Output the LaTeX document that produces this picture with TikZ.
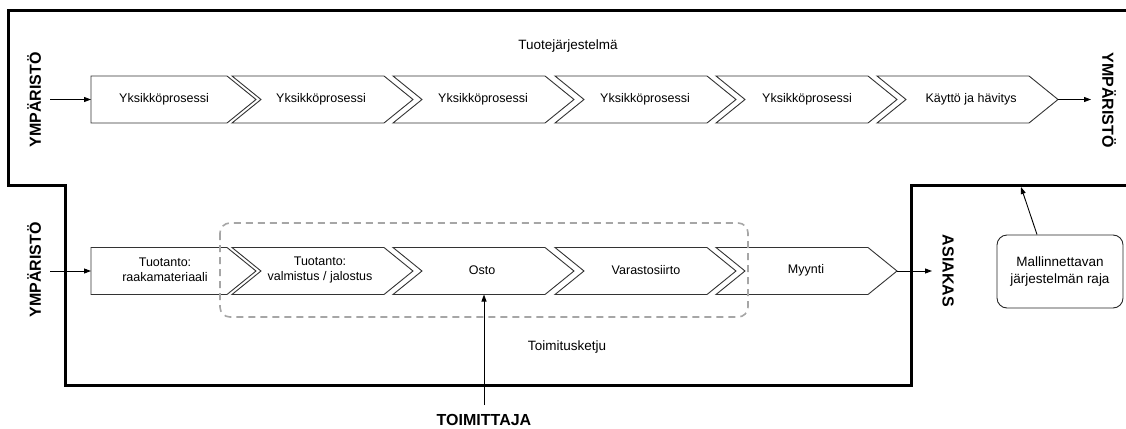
\documentclass[tikz,border=0pt]{standalone}
\usepackage{fontspec}
\setmainfont{Liberation Sans}
\usetikzlibrary{arrows.meta}
\newcommand{\chevpath}[4]{% #1 left x, #2 top-right x, #3 centre y, #4 notch depth
  \draw[chevline] (#1,#3-23.5) -- (#2,#3-23.5) -- (#2+29,#3) -- (#2,#3+23.5) -- (#1,#3+23.5) -- (#1+#4,#3) -- cycle;}
\begin{document}
\begin{tikzpicture}[x=1pt,y=-1pt,
  chevline/.style={draw=black!80, line width=0.9pt, line join=miter},
  lbl/.style={font=\fontsize{12.5}{14.5}\selectfont, align=center, inner sep=0pt},
  ttl/.style={font=\fontsize{13.5}{16}\selectfont, inner sep=0pt},
  envlbl/.style={font=\bfseries\fontsize{16}{18}\selectfont, inner sep=0pt},
  arr/.style={-{Triangle[length=7pt,width=5pt]}, line width=0.9pt},
  border/.style={line width=3pt, line join=miter},
  dashbox/.style={draw=black!35, line width=1.6pt, dash pattern=on 7pt off 5pt, rounded corners=10pt},
  rajabox/.style={draw=black!85, line width=0.9pt, rounded corners=10pt, align=center,
    font=\fontsize{13.5}{17}\selectfont, minimum width=126pt, minimum height=73pt, inner sep=0pt}]
\useasboundingbox (0,0) rectangle (1126,428);
\clip (0,0) rectangle (1126,428);

% system boundary
\draw[border] (1130,11) -- (8,11) -- (8,185) -- (65.5,185) -- (65.5,385) -- (911.5,385) -- (911.5,185) -- (1130,185);

% titles
\node[ttl] (tuote) at (568,46) {Tuotejärjestelmä};
\node[ttl] (ketju) at (567,347) {Toimitusketju};

% top row chevrons
\chevpath{91}{227}{99.5}{0}
\chevpath{232}{384}{99.5}{29}
\chevpath{393}{545}{99.5}{29}
\chevpath{555}{707}{99.5}{29}
\chevpath{716}{868}{99.5}{29}
\chevpath{877}{1029}{99.5}{29}
\node[lbl] (u1) at (164,99.5) {Yksikköprosessi};
\node[lbl] (u2) at (321,99.5) {Yksikköprosessi};
\node[lbl] (u3) at (483,99.5) {Yksikköprosessi};
\node[lbl] (u4) at (645,99.5) {Yksikköprosessi};
\node[lbl] (u5) at (807,99.5) {Yksikköprosessi};
\node[lbl] (u6) at (971,99.5) {Käyttö ja hävitys};
\coordinate (u1w) at (91,99.5);
\coordinate (u6tip) at (1058,99.5);

% bottom row chevrons
\chevpath{91}{227}{271}{0}
\chevpath{232}{384}{271}{29}
\chevpath{393}{545}{271}{29}
\chevpath{555}{707}{271}{29}
\chevpath{716}{868}{271}{29}
\node[lbl] (b1) at (165,270) {Tuotanto:\\raakamateriaali};
\node[lbl] (b2) at (320,270) {Tuotanto:\\valmistus / jalostus};
\node[lbl] (b3) at (482,270) {Osto};
\node[lbl] (b4) at (646,270) {Varastosiirto};
\node[lbl] (b5) at (806,270) {Myynti};
\coordinate (b1w) at (91,271);
\coordinate (b5tip) at (897,271);
\coordinate (b3s) at (484,294.5);

% supply-chain scope
\draw[dashbox] (220,223) rectangle (748,317);

% environment labels
\node[envlbl, rotate=90] (ympL1) at (34,100) {YMPÄRISTÖ};
\node[envlbl, rotate=-90] (ympR) at (1109,100) {YMPÄRISTÖ};
\node[envlbl, rotate=90] (ympL2) at (34,270) {YMPÄRISTÖ};
\node[envlbl, rotate=-90] (asiakas) at (948,271) {ASIAKAS};
\node[envlbl] (toim) at (484,420) {TOIMITTAJA};

\coordinate (inTop) at (50,99.5);
\coordinate (outTop) at (1091,99.5);
\coordinate (inBot) at (50,271);
\coordinate (outBot) at (932,271);
\coordinate (toimTop) at (484,405);

% connectors
\draw[arr] (inTop) -- (u1w);
\draw[arr] (u6tip) -- (outTop);
\draw[arr] (inBot) -- (b1w);
\draw[arr] (b5tip) -- (outBot);
\draw[arr] (toimTop) -- (b3s);

% legend box
\node[rajabox] (raja) at (1060,271.5) {Mallinnettavan\\järjestelmän raja};
\coordinate (bnd) at (1021,187);
\draw[arr] ([xshift=-23pt]raja.north) -- (bnd);
\end{tikzpicture}
\end{document}
